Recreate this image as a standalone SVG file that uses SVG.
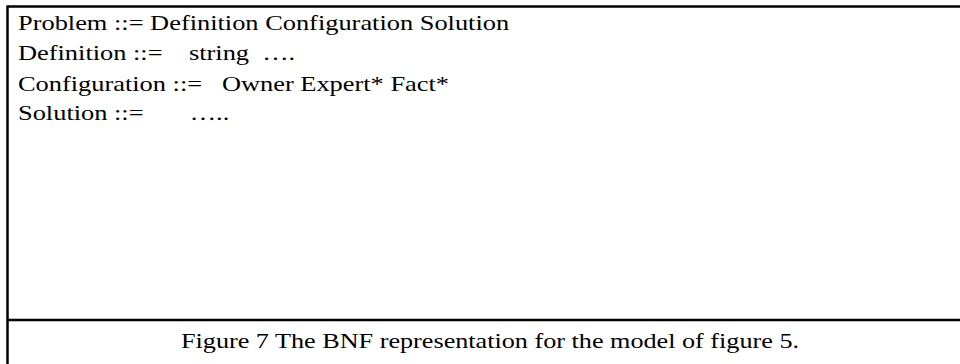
<svg xmlns="http://www.w3.org/2000/svg" width="960" height="364" viewBox="0 0 960 364">
  <style>
    .rule { stroke: #000; stroke-width: 2.5; fill: none; }
    .bnf { font-family: "Liberation Serif", "Times New Roman", serif; font-size: 22px; fill: #000; }
    .cap { font-family: "Liberation Serif", "Times New Roman", serif; font-size: 22px; fill: #000; }
  </style>
  <rect width="960" height="364" fill="#fff"/>
  <g id="frame">
    <line class="rule" x1="7.5" y1="6.5" x2="960" y2="6.5"/>
    <line class="rule" x1="7.5" y1="5.5" x2="7.5" y2="364"/>
    <line class="rule" x1="7.5" y1="320" x2="960" y2="320"/>
  </g>
  <!-- grammar lines, widened horizontally -->
  <g id="grammar" transform="translate(18 0) scale(1.2 1)">
    <text class="bnf" x="0" y="30">Problem ::= Definition Configuration Solution</text>
    <text class="bnf" x="0" y="60" xml:space="preserve">Definition ::=    string  ….</text>
    <text class="bnf" x="0" y="91" xml:space="preserve">Configuration ::=   Owner Expert* Fact*</text>
    <text class="bnf" x="0" y="120" xml:space="preserve">Solution ::=       …..</text>
  </g>
  <g id="caption" transform="translate(490 0) scale(1.19 1)">
    <text class="cap" x="0" y="348" text-anchor="middle">Figure 7 The BNF representation for the model of figure 5.</text>
  </g>
</svg>
